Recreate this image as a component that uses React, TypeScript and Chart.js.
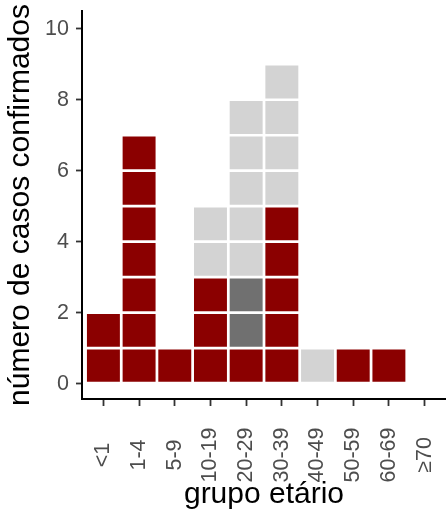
import React, { useEffect, useRef } from "react";
import { Chart, registerables } from "chart.js";

Chart.register(...registerables);

// grupos etários e número de casos por cor
const categories = ["<1", "1-4", "5-9", "10-19", "20-29", "30-39", "40-49", "50-59", "60-69", "≥70"];
const casosVermelho = [2, 7, 1, 3, 1, 5, 0, 1, 1, 0];
const casosCinzaEscuro = [0, 0, 0, 0, 2, 0, 0, 0, 0, 0];
const casosCinzaClaro = [0, 0, 0, 2, 5, 4, 1, 0, 0, 0];
const yTicks = [0, 2, 4, 6, 8, 10];

const RED = "#8b0000";
const DARK = "#707070";
const LIGHT = "#d3d3d3";
const FONT = '"Liberation Sans", Arial, sans-serif';
const TICK_SIZE = 21.5;
const TITLE_SIZE = 30;

export default function App() {
  const chartRef = useRef<HTMLCanvasElement | null>(null);

  useEffect(() => {
    if (!chartRef.current) return;

    const totals = categories.map((_, i) => casosVermelho[i] + casosCinzaEscuro[i] + casosCinzaClaro[i]);
    const maxTotal = Math.max(...totals);
    const colorAt = (i: number, k: number) =>
      k < casosVermelho[i] ? RED : k < casosVermelho[i] + casosCinzaEscuro[i] ? DARK : LIGHT;

    // one dataset per row of squares
    const datasets: any[] = [];
    for (let k = 0; k < maxTotal; k++) {
      const idx = categories.map((_, i) => i).filter((i) => totals[i] > k);
      datasets.push({
        data: idx.map((i) => ({ x: i, y: [k, k + 1] })),
        backgroundColor: idx.map((i) => colorAt(i, k)),
        borderColor: "#ffffff",
        borderWidth: 1.7,
        borderSkipped: false,
        categoryPercentage: 1,
        barPercentage: 1,
        grouped: false,
      });
    }

    const chart = new Chart(chartRef.current, {
      type: "bar",
      data: { datasets },
      options: {
        animation: false,
        responsive: true,
        maintainAspectRatio: false,
        layout: { padding: { top: 11, left: 0, right: 0, bottom: 0 } },
        plugins: { legend: { display: false }, tooltip: { enabled: false } },
        scales: {
          x: {
            type: "linear",
            min: -0.6,
            max: 9.6,
            offset: false,
            afterBuildTicks: (axis: any) => {
              axis.ticks = categories.map((_, i) => ({ value: i }));
            },
            afterFit: (axis: any) => {
              axis.height = 112;
              axis.paddingLeft = 0;
              axis.paddingRight = 0;
              // centre the rotated labels instead of right-aligning them
              axis._getXAxisLabelAlignment = () => "center";
            },
            grid: { drawOnChartArea: false, offset: false, tickLength: 7, tickColor: "#333333", tickWidth: 1.8 },
            border: { color: "#000000", width: 2 },
            ticks: {
              autoSkip: false,
              minRotation: 90,
              maxRotation: 90,
              padding: 49,
              color: "#4d4d4d",
              font: { family: FONT, size: TICK_SIZE },
              callback: (v: any) => categories[v as number] ?? "",
            },
            title: {
              display: true,
              text: "grupo etário",
              color: "#000000",
              font: { family: FONT, size: TITLE_SIZE },
              padding: { top: 0, bottom: -2 },
            },
          },
          y: {
            type: "linear",
            min: -0.43,
            max: 10.5,
            afterBuildTicks: (axis: any) => {
              axis.ticks = yTicks.map((v) => ({ value: v }));
            },
            afterFit: (axis: any) => {
              axis.width = 82;
              axis.paddingTop = 0;
              axis.paddingBottom = 0;
            },
            grid: { drawOnChartArea: false, tickLength: 6, tickColor: "#333333", tickWidth: 1.8 },
            border: { color: "#000000", width: 2 },
            ticks: {
              padding: 7,
              color: "#4d4d4d",
              font: { family: FONT, size: TICK_SIZE },
            },
            title: {
              display: true,
              text: "número de casos confirmados",
              color: "#000000",
              font: { family: FONT, size: TITLE_SIZE },
              padding: { top: 3, bottom: 0 },
            },
          },
        },
      },
    });

    return () => {
      chart.destroy();
    };
  }, []);

  return (
    <div style={{ position: "absolute", left: 0, top: 0, width: 446, height: 511 }}>
      <canvas ref={chartRef}></canvas>
    </div>
  );
}
